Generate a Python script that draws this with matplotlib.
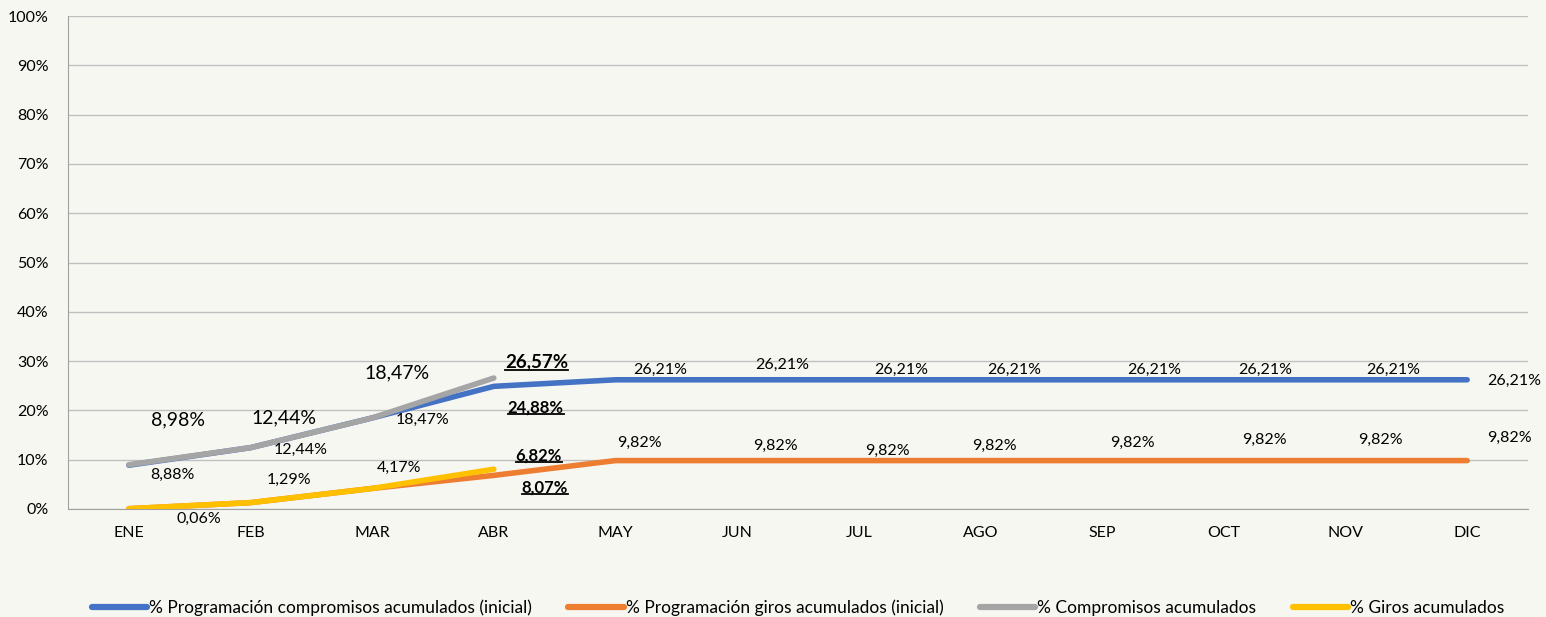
import matplotlib
matplotlib.use("Agg")
import matplotlib.pyplot as plt
from matplotlib.lines import Line2D

months = ["ENE", "FEB", "MAR", "ABR", "MAY", "JUN", "JUL", "AGO", "SEP", "OCT", "NOV", "DIC"]
prog_comp = [8.88, 12.44, 18.47, 24.88, 26.21, 26.21, 26.21, 26.21, 26.21, 26.21, 26.21, 26.21]
prog_giros = [0.06, 1.29, 4.17, 6.82, 9.82, 9.82, 9.82, 9.82, 9.82, 9.82, 9.82, 9.82]
comp_acum = [8.98, 12.44, 18.47, 26.57]
giros_acum = [0.06, 1.29, 4.17, 8.07]
series_names = ["% Programación compromisos acumulados (inicial)",
                "% Programación giros acumulados (inicial)",
                "% Compromisos acumulados",
                "% Giros acumulados"]
yticks = [0, 10, 20, 30, 40, 50, 60, 70, 80, 90, 100]

plt.rcParams['font.family'] = ['Lato', 'DejaVu Sans']
BG = "#F7F7F2"
fig = plt.figure(figsize=(15.46, 6.17), dpi=100, facecolor=BG)
ax = fig.add_axes([68/1546, 1-509/617, (1528-68)/1546, (509-16)/617])
ax.set_facecolor(BG)

colors = ["#4472C4", "#ED7D31", "#A5A5A5", "#FFC000"]
x_all = list(range(len(months)))
lw = 4
ax.plot(x_all, prog_comp, color=colors[0], lw=lw, solid_capstyle='round', label=series_names[0], zorder=3)
ax.plot(x_all, prog_giros, color=colors[1], lw=lw, solid_capstyle='round', label=series_names[1], zorder=3)
ax.plot(x_all[:len(comp_acum)], comp_acum, color=colors[2], lw=lw, solid_capstyle='round', label=series_names[2], zorder=4)
ax.plot(x_all[:len(giros_acum)], giros_acum, color=colors[3], lw=lw, solid_capstyle='round', label=series_names[3], zorder=4)

ax.set_xlim(-0.5, 11.5)
ax.set_ylim(0, 100)
ax.set_yticks(yticks)
ax.set_yticklabels([f"{t}%" for t in yticks], fontsize=11.5)
ax.set_xticks(x_all)
ax.set_xticklabels(months, fontsize=11.5)
ax.tick_params(length=0, pad=12)
ax.tick_params(axis='y', pad=14)
ax.grid(axis='y', color="#BFBFBF", lw=1)
ax.set_axisbelow(True)
for s in ['top', 'right']:
    ax.spines[s].set_visible(False)
ax.spines['left'].set_color("#A0A0A0")
ax.spines['bottom'].set_color("#A0A0A0")

def fmt(v):
    return f"{v:.2f}%".replace(".", ",")

underlined = []

def lab(i, v, dx, dy, size=11.5, bold=False):
    t = ax.annotate(fmt(v), xy=(i, v), xytext=(dx, -dy), textcoords='offset pixels',
                    ha='center', va='center', fontsize=size,
                    fontweight='bold' if bold else 'normal', color='black', zorder=6)
    if bold:
        underlined.append(t)

# blue labels
blue_off = [(44, 10), (50, 2), (50, 2), (42, 21), (45, -10), (45, -15), (42, -10), (34, -10),
            (52, -10), (41, -10), (48, -10), (47, 1)]
for i, (v, (dx, dy)) in enumerate(zip(prog_comp, blue_off)):
    lab(i, v, dx, dy, bold=(i == 3), size=12 if i == 3 else 11.5)
# orange labels (FEB, MAR hidden)
orange_off = {0: (70, 10), 3: (45, -20), 4: (24, -18), 5: (38, -15), 6: (29, -10), 7: (14, -15),
              8: (30, -18), 9: (41, -21), 10: (35, -21), 11: (42, -23)}
for i, (dx, dy) in orange_off.items():
    lab(i, prog_giros[i], dx, dy, bold=(i == 3), size=12 if i == 3 else 11.5)
# gray labels
gray_off = [(49, -45), (33, -30), (25, -45), (43, -16)]
for i, (v, (dx, dy)) in enumerate(zip(comp_acum, gray_off)):
    lab(i, v, dx, dy, size=14 if i < 3 else 13.5, bold=(i == 3))
# yellow labels
yellow_off = {1: (39, -23), 2: (27, -21), 3: (51, 18)}
for i, (dx, dy) in yellow_off.items():
    lab(i, giros_acum[i], dx, dy, bold=(i == 3), size=12 if i == 3 else 11.5)

leg = ax.legend(loc='center', bbox_to_anchor=(0.5, (509-608)/493), ncol=4, frameon=False,
                fontsize=12.5, handlelength=3.2, columnspacing=2.1, handletextpad=0.1)
for h in leg.get_lines():
    h.set_linewidth(4.5)
    h.set_solid_capstyle('round')

fig.canvas.draw()
r = fig.canvas.get_renderer()
W, H = fig.bbox.width, fig.bbox.height
for t in underlined:
    bb = t.get_window_extent(r)
    yline = bb.y0 + 1
    fig.add_artist(Line2D([bb.x0/W, bb.x1/W], [yline/H, yline/H], transform=fig.transFigure,
                          color='black', lw=1.3))

fig.savefig("out.png", dpi=100, facecolor=BG)
